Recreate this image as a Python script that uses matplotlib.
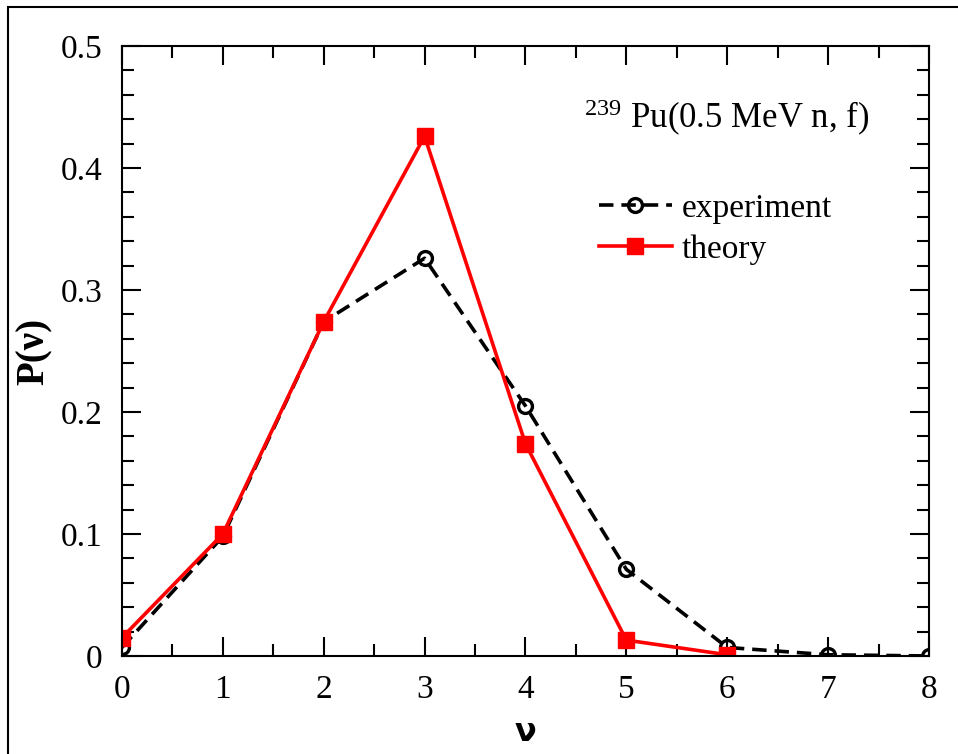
import numpy as np
import matplotlib
matplotlib.use("Agg")
import matplotlib.pyplot as plt
from matplotlib.patches import Rectangle

plt.rcParams['font.family'] = ['Liberation Serif', 'DejaVu Serif']
plt.rcParams['mathtext.fontset'] = 'custom'
plt.rcParams['mathtext.rm'] = 'Liberation Serif'
plt.rcParams['mathtext.it'] = 'Liberation Serif:italic'
plt.rcParams['mathtext.bf'] = 'Liberation Serif:bold'

# distribution de multiplicite des neutrons prompts
nu_exp = [0, 1, 2, 3, 4, 5, 6, 7, 8]
p_exp = [0.007, 0.098, 0.274, 0.326, 0.205, 0.071, 0.007, 0.001, 0.0]
nu_th = [0, 1, 2, 3, 4, 5, 6]
p_th = [0.015, 0.100, 0.274, 0.426, 0.174, 0.013, 0.001]

fig = plt.figure(figsize=(9.58, 7.54), dpi=100)
ax = fig.add_axes([0.1273, 0.130, 0.8424, 0.809])

ax.plot(nu_exp, p_exp, color='black', linestyle=(0, (4, 2.2)), linewidth=2.6,
        marker='o', markersize=10, markerfacecolor='none', markeredgewidth=2.4,
        label='experiment')
ax.plot(nu_th, p_th, color='red', linewidth=2.6, marker='s', markersize=11,
        label='theory')

ax.set_xlim(0, 8)
ax.set_ylim(0, 0.5)
ax.set_xticks(np.arange(0, 9, 1))
ax.set_xticks(np.arange(0, 8.01, 0.5), minor=True)
ax.set_yticks(np.arange(0, 0.51, 0.1))
ax.set_yticks(np.arange(0, 0.501, 0.02), minor=True)
ax.set_yticklabels(['0', '0.1', '0.2', '0.3', '0.4', '0.5'])
ax.tick_params(which='both', direction='in', top=True, right=True, width=1.5,
               labelsize=24)
ax.tick_params(which='major', length=14)
ax.tick_params(which='minor', length=8.5)
ax.tick_params(axis='x', which='major', pad=13)
ax.tick_params(axis='y', which='major', pad=14)
for s in ax.spines.values():
    s.set_linewidth(1.5)

ax.set_xlabel('ν', family='DejaVu Sans', fontweight='bold', fontsize=23, labelpad=9)
ax.set_ylabel('P(ν)', fontweight='bold', fontsize=28, labelpad=6)

ax.text(0.573, 0.882, r'$^{239}$ Pu(0.5 MeV n, f)', transform=ax.transAxes,
        fontsize=25, va='center', ha='left')

leg = ax.legend(loc='upper left', bbox_to_anchor=(0.574, 0.78), frameon=False,
                fontsize=24, handlelength=2.2, handletextpad=0.3,
                labelspacing=0.3, borderaxespad=0)

# cadre autour de la figure
fig.patches.append(Rectangle((8 / 958, -0.1), 1.2, 1.1 - 7 / 754,
                             transform=fig.transFigure, fill=False,
                             edgecolor='black', linewidth=1.5))

fig.savefig('out.png', dpi=100)
